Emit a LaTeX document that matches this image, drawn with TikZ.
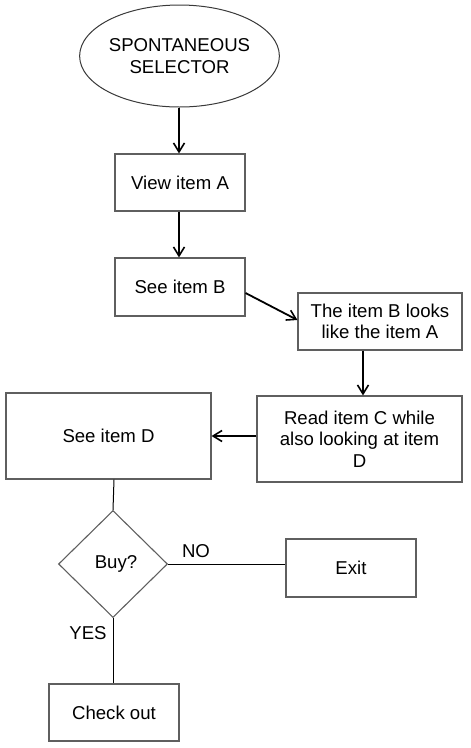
\documentclass[tikz,border=0pt]{standalone}
\usepackage{fontspec}
\setmainfont{Liberation Sans}
\usetikzlibrary{shapes.geometric,arrows.meta,calc}
\definecolor{boxgray}{RGB}{95,95,95}
\begin{document}
\begin{tikzpicture}[x=1pt,y=-1pt,
  every node/.style={font=\fontsize{18.6}{21.5}\selectfont, inner sep=0pt, align=center},
  box/.style={draw=boxgray, line width=1.1pt, rectangle},
  oval/.style={draw=boxgray!60!black, line width=1pt, ellipse},
  decision/.style={draw=boxgray, line width=1.1pt, diamond},
  arr/.style={line width=1.8pt, -{Straight Barb[length=9pt,width=11pt,line width=1.6pt]}},
  plain/.style={line width=1pt},
  lbl/.style={font=\fontsize{18.6}{21.5}\selectfont}
]
\useasboundingbox (0,0) rectangle (471,748);

\node[oval, minimum width=149pt, minimum height=102pt] (start) at (179.5,56) {SPONTANEOUS\\SELECTOR};
\node[box, minimum width=130pt, minimum height=57pt] (viewA) at (180,182.5) {View item A};
\node[box, minimum width=130pt, minimum height=58pt] (seeB) at (180,287) {See item B};
\node[box, minimum width=164pt, minimum height=57pt] (looks) at (380,321.5) {The item B looks\\like the item A};
\node[box, minimum width=205pt, minimum height=86pt] (readC) at (359.5,439) {Read item C while\\also looking at item\\D};
\node[box, minimum width=205pt, minimum height=86pt] (seeD) at (108.5,436) {See item D};
\node[decision, minimum width=109pt, minimum height=107pt, aspect=1] (buy) at (113,564) {\hspace*{6pt}Buy?};
\node[box, minimum width=130pt, minimum height=58pt] (exit) at (351,568) {Exit};
\node[box, minimum width=130pt, minimum height=57pt] (checkout) at (114,712.5) {Check out};

\node[lbl] (no) at (196,551) {NO};
\node[lbl] (yes) at (88,633) {YES};

\draw[arr] ($(start.south)+(-0.5,0)$) -- ($(viewA.north)+(-1,0)$);
\draw[arr] ($(viewA.south)+(-1,0)$) -- ($(seeB.north)+(-1,0)$);
\draw[arr] ($(seeB.east)+(0,6)$) -- ($(looks.west)+(0,-1.5)$);
\draw[arr] ($(looks.south)+(-17,0)$) -- ($(readC.north)+(3.5,0)$);
\draw[arr] (readC.west |- seeD.east) -- (seeD.east);
\draw[plain] ($(seeD.south)+(5.5,0)$) -- (buy.north);
\draw[plain] (buy.east) -- (buy.east -| exit.west);
\draw[plain] (buy.south) -- (checkout.north -| buy.south);
\end{tikzpicture}
\end{document}
